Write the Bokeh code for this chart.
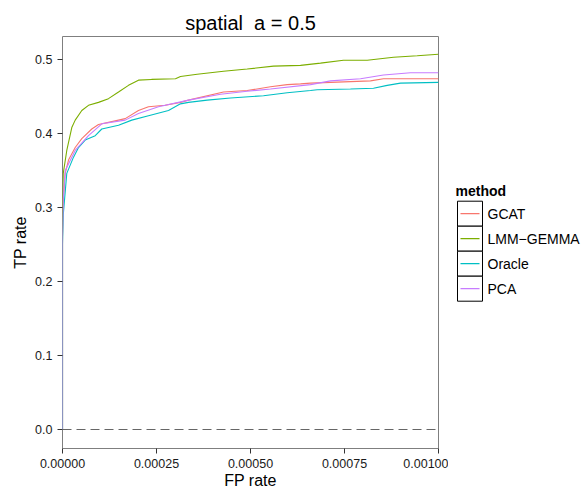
from bokeh.plotting import figure
from bokeh.layouts import row
from bokeh.models import Range1d, FixedTicker, PrintfTickFormatter, Span
from bokeh.core.properties import value
from bokeh.embed import file_html
from bokeh.resources import INLINE

FONT = "Liberation Sans"

methods = ["GCAT", "LMM\u2212GEMMA", "Oracle", "PCA"]
colors = ["#F8766D", "#7CAE00", "#00BFC4", "#C77CFF"]

gcat_fp = [0, 0, 0.000002, 0.0000072, 0.000016, 0.0000338, 0.0000513, 0.0000779, 0.0000957,
           0.0001223, 0.0001668, 0.000202, 0.0002287, 0.0002731, 0.0003138, 0.0003351,
           0.0004282, 0.0004912, 0.0005532, 0.0005976, 0.000633, 0.0006596, 0.0007128,
           0.0008191, 0.0008537, 0.001]
gcat_tp = [0, 0.26, 0.31, 0.346, 0.364, 0.381, 0.393, 0.406, 0.412,
           0.415, 0.420, 0.431, 0.436, 0.438, 0.442, 0.445,
           0.456, 0.458, 0.463, 0.466, 0.467, 0.468, 0.469,
           0.471, 0.474, 0.474]

lmm_fp = [0, 0, 0.000002, 0.0000114, 0.0000247, 0.0000338, 0.0000513, 0.0000691, 0.0000957,
          0.0001223, 0.000149, 0.0001755, 0.000202, 0.0002367, 0.0003005, 0.0003138,
          0.0003582, 0.0004282, 0.0004912, 0.0005612, 0.000633, 0.0006508, 0.0006862,
          0.0007473, 0.0008104, 0.0008803, 0.0009434, 0.001]
lmm_tp = [0, 0.30, 0.346, 0.377, 0.408, 0.418, 0.431, 0.438, 0.442,
          0.447, 0.456, 0.465, 0.472, 0.473, 0.474, 0.477,
          0.480, 0.484, 0.487, 0.491, 0.492, 0.493, 0.495,
          0.499, 0.499, 0.503, 0.505, 0.507]

oracle_fp = [0, 0, 0.000002, 0.0000114, 0.0000293, 0.0000426, 0.0000604, 0.000087, 0.0001045,
             0.000149, 0.0001843, 0.0002287, 0.0002819, 0.0003138, 0.0003351, 0.0003848,
             0.0004468, 0.0005346, 0.0005976, 0.0006596, 0.0006774, 0.000766, 0.0008271,
             0.0008636, 0.0008989, 0.001]
oracle_tp = [0, 0.25, 0.29, 0.346, 0.368, 0.381, 0.391, 0.397, 0.406,
             0.411, 0.418, 0.424, 0.431, 0.440, 0.442, 0.445,
             0.448, 0.451, 0.455, 0.458, 0.459, 0.460, 0.461,
             0.465, 0.468, 0.469]

pca_fp = [0, 0, 0.000002, 0.0000072, 0.0000338, 0.0000691, 0.0001045, 0.0001668, 0.000202,
          0.0002553, 0.0003351, 0.0004202, 0.0004912, 0.0005532, 0.0006596, 0.0007128,
          0.0007926, 0.0008537, 0.0009255, 0.001]
pca_tp = [0, 0.26, 0.31, 0.35, 0.377, 0.397, 0.413, 0.418, 0.427,
          0.436, 0.445, 0.453, 0.457, 0.460, 0.466, 0.471,
          0.474, 0.479, 0.482, 0.482]

x_ticks = [0, 0.00025, 0.0005, 0.00075, 0.001]
y_ticks = [0.0, 0.1, 0.2, 0.3, 0.4, 0.5]

H = 494
TOP, BOTTOM = 36, 46
p = figure(width=448, height=H, output_backend="svg", toolbar_location=None,
           x_range=Range1d(0, 0.001), y_range=Range1d(-0.0257, 0.531),
           min_border_left=62, min_border_right=10, min_border_top=TOP, min_border_bottom=BOTTOM)
p.background_fill_color = "white"
p.border_fill_color = "white"
p.outline_line_color = "#7f7f7f"
p.outline_line_width = 1
p.grid.visible = False

p.title.text = "spatial\u00a0\u00a0a = 0.5"
p.title.align = "center"
p.title.text_font = FONT
p.title.text_font_size = "20px"
p.title.text_font_style = "normal"
p.title.text_color = "black"
p.title.standoff = 6

for ax in (p.xaxis[0], p.yaxis[0]):
    ax.axis_line_color = None
    ax.major_tick_line_color = "#333333"
    ax.major_tick_line_width = 1
    ax.major_tick_out = 5
    ax.major_tick_in = 0
    ax.minor_tick_line_color = None
    ax.major_label_text_font = FONT
    ax.major_label_text_font_size = "12.5px"
    ax.major_label_text_color = "#1a1a1a"
    ax.axis_label_text_font = FONT
    ax.axis_label_text_font_size = "16px"
    ax.axis_label_text_font_style = "normal"
    ax.axis_label_text_color = "black"

p.xaxis.axis_label = "FP rate"
p.yaxis.axis_label = "TP rate"
p.xaxis.ticker = FixedTicker(ticks=x_ticks)
p.yaxis.ticker = FixedTicker(ticks=y_ticks)
p.xaxis.formatter = PrintfTickFormatter(format="%.5f")
p.yaxis.formatter = PrintfTickFormatter(format="%.1f")
p.xaxis.major_label_standoff = 5
p.xaxis.axis_label_standoff = 1
p.yaxis.major_label_standoff = 5
p.yaxis.axis_label_standoff = 3

p.add_layout(Span(location=0, dimension="width", line_color="#666666",
                  line_width=1.1, line_dash="9 5"))

series = [(gcat_fp, gcat_tp), (lmm_fp, lmm_tp), (oracle_fp, oracle_tp), (pca_fp, pca_tp)]
for (fp, tp), c in zip(series, colors):
    p.line(fp, tp, line_color=c, line_width=1.1)

# ---- legend panel (ggplot-style keys with boxes), coordinates = page pixels ----
LW = 584 - 448
lg = figure(width=LW, height=H, output_backend="svg", toolbar_location=None,
            x_range=Range1d(448, 584), y_range=Range1d(H - BOTTOM, TOP),
            x_axis_location=None, y_axis_location=None,
            min_border_left=0, min_border_right=0, min_border_top=TOP, min_border_bottom=BOTTOM)
lg.grid.visible = False
lg.outline_line_color = None
lg.background_fill_color = "white"
lg.border_fill_color = "white"

key_left, key_w, key_h, first_top = 457, 25, 25, 200.7
n = len(methods)
tops = [first_top + key_h * i for i in range(n)]
bottoms = [t + key_h for t in tops]
mids = [t + key_h / 2 for t in tops]
lg.quad(left=[key_left] * n, right=[key_left + key_w] * n, top=tops, bottom=bottoms,
        fill_color="white", line_color="black", line_width=1)
lg.segment(x0=[key_left + 3] * n, x1=[key_left + key_w - 3] * n, y0=mids, y1=mids,
           line_color=colors, line_width=1.2)
lg.text(x=[key_left + key_w + 5] * n, y=mids, text=methods,
        text_font=value(FONT), text_font_size="14px", text_color="black",
        text_baseline="middle", text_align="left")
lg.text(x=[455], y=[first_top - 10.5], text=["method"], text_font=value(FONT),
        text_font_size="14px", text_font_style="bold", text_color="black",
        text_baseline="middle", text_align="left")

layout = row(p, lg, spacing=0)
open("out.html", "w").write(file_html(layout, INLINE))
